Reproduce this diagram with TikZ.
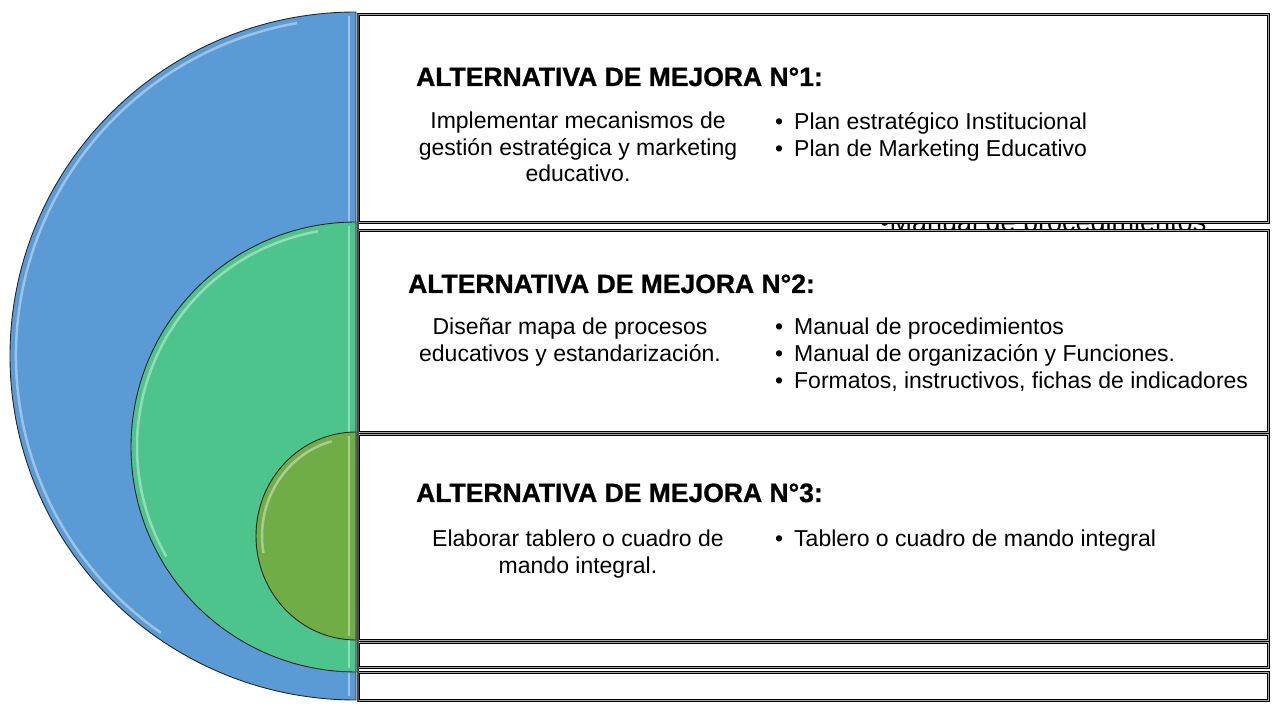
\documentclass[tikz,border=0pt]{standalone}
\usepackage{fontspec}
\setmainfont{Liberation Sans}
\newfontfamily\negrita[FakeBold=1]{Liberation Sans Bold}
\definecolor{azul}{HTML}{5B9BD5}
\definecolor{verde}{HTML}{4DC48C}
\definecolor{oliva}{HTML}{70AD47}
\newcommand{\punto}{\makebox[19pt][l]{•}}

\begin{document}
\begin{tikzpicture}[x=1pt,y=1pt,
    mitad/.style={draw=black!85, line width=0.9pt},
    brillo/.style={white, opacity=0.4, line width=2.5pt},
    caja/.style={draw=black, line width=1.1pt, double=gray!70, double distance=1.6pt, fill=white, inner sep=0pt, anchor=north west},
    titulo/.style={anchor=base west, inner sep=0pt, font=\fontsize{26.5}{30}\negrita},
    texto/.style={anchor=north, inner sep=0pt, align=center, font=\fontsize{23}{26.5}\selectfont},
    lista/.style={anchor=north west, inner sep=0pt, align=left, font=\fontsize{23}{27}\selectfont}]
    \useasboundingbox (0,0) rectangle (1272,704);
    \fill[white] (0,0) rectangle (1272,704);

    \filldraw[mitad, fill=azul] (356,692) arc[start angle=90, end angle=270, x radius=346, y radius=344] -- cycle;
    \draw[brillo] ([shift={(100:340 and 338)}]356,348) arc[start angle=100, end angle=235, x radius=340, y radius=338];
    \draw[brillo] (349,688) -- (349,8);
    \filldraw[mitad, fill=verde] (356,482) arc[start angle=90, end angle=270, radius=225] -- cycle;
    \draw[brillo] ([shift={(100:219)}]356,257) arc[start angle=100, end angle=210, radius=219];
    \draw[brillo] (349,478) -- (349,36);
    \filldraw[mitad, fill=oliva] (356,272) arc[start angle=90, end angle=270, x radius=100, y radius=104] -- cycle;
    \draw[brillo] ([shift={(105:94 and 98)}]356,168) arc[start angle=105, end angle=190, x radius=94, y radius=98];
    \draw[brillo] (349,268) -- (349,68);

    \node[anchor=base west, inner sep=0pt, font=\fontsize{27}{30}\selectfont] (fantasma) at (880,472) {•Manual de procedimientos};

    \node[caja, minimum width=910pt, minimum height=208pt] (alt1) at (358,690) {};
    \node[caja, minimum width=910pt, minimum height=202pt] (alt2) at (358,474) {};
    \node[caja, minimum width=910pt, minimum height=206pt] (alt3) at (358,270) {};
    \node[caja, minimum width=910pt, minimum height=25pt] (franja1) at (358,62) {};
    \node[caja, minimum width=910pt, minimum height=28pt] (franja2) at (358,32) {};
    \draw[black!70, line width=2pt] (alt1.north west) -- (franja2.south west);

    \node[titulo] (tit1) at (416,618) {ALTERNATIVA DE MEJORA N°1:};
    \node[texto] (obj1) at (578,592) {Implementar mecanismos de\\gestión estratégica y marketing\\educativo.};
    \node[lista] (prod1) at (775,592) {\punto Plan estratégico Institucional\\\punto Plan de Marketing Educativo};

    \node[titulo] (tit2) at (408,411) {ALTERNATIVA DE MEJORA N°2:};
    \node[texto] (obj2) at (570,386) {Diseñar mapa de procesos\\educativos y estandarización.};
    \node[lista] (prod2) at (775,386) {\punto Manual de procedimientos\\\punto Manual de organización y Funciones.\\\punto Formatos, instructivos, fichas de indicadores};

    \node[titulo] (tit3) at (416,202) {ALTERNATIVA DE MEJORA N°3:};
    \node[texto] (obj3) at (578,174) {Elaborar tablero o cuadro de\\mando integral.};
    \node[lista] (prod3) at (775,174) {\punto Tablero o cuadro de mando integral};
\end{tikzpicture}
\end{document}
